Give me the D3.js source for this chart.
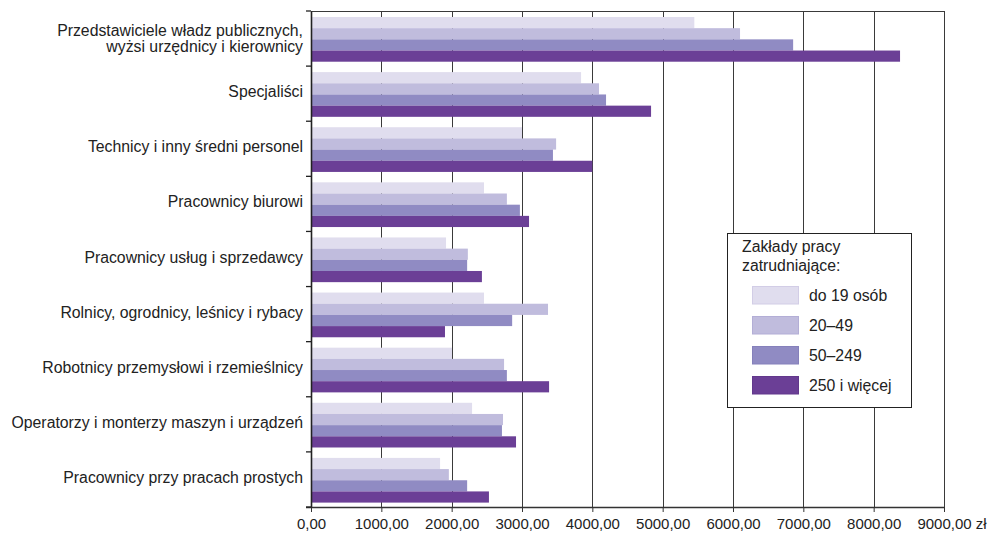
<!DOCTYPE html>
<html>
<head>
<meta charset="utf-8">
<script src="https://cdn.jsdelivr.net/npm/d3@7"></script>
<style>
html,body{margin:0;padding:0;background:#fff;}
svg{display:block;font-family:"Liberation Sans",Arial,sans-serif;}
</style>
</head>
<body>
<svg id="chart" width="991" height="536"></svg>
<script>
const categories = [
  ["Przedstawiciele władz publicznych,", "wyżsi urzędnicy i kierownicy"],
  ["Specjaliści"],
  ["Technicy i inny średni personel"],
  ["Pracownicy biurowi"],
  ["Pracownicy usług i sprzedawcy"],
  ["Rolnicy, ogrodnicy, leśnicy i rybacy"],
  ["Robotnicy przemysłowi i rzemieślnicy"],
  ["Operatorzy i monterzy maszyn i urządzeń"],
  ["Pracownicy przy pracach prostych"]
];
const seriesNames = ["do 19 osób", "20–49", "50–249", "250 i więcej"];
const s1 = [5450, 3840, 3000, 2460, 1920, 2460, 2005, 2290, 1835];
const s2 = [6100, 4095, 3485, 2785, 2230, 3370, 2745, 2730, 1960];
const s3 = [6855, 4195, 3440, 2970, 2220, 2860, 2785, 2715, 2220];
const s4 = [8375, 4835, 4000, 3100, 2430, 1905, 3385, 2915, 2530];
const series = [s1, s2, s3, s4];
const colors = ["#e0ddee", "#c0bcdd", "#908bc3", "#6b3f96"];
const strokeColors = ["#d2cde6", "#b3aed6", "#8580bb", "#62388c"];
const xTicks = [0,1000,2000,3000,4000,5000,6000,7000,8000,9000];
const currency = "zł";
const legendTitle = ["Zakłady pracy", "zatrudniające:"];

const svg = d3.select("#chart");
const L = 311, R = 944, T = 11, B = 507;

const x = d3.scaleLinear().domain([0, 9000]).range([L, R]);
const y = d3.scaleBand().domain(d3.range(categories.length)).range([T, B]).paddingInner(0).paddingOuter(0);
const inner = d3.scaleBand().domain(d3.range(4)).range([6, y.bandwidth() - 4.4]).paddingInner(0).paddingOuter(0);

// grid lines
svg.append("g").selectAll("line").data(xTicks.slice(1)).join("line")
  .attr("x1", d => Math.round(x(d)) + 0.5).attr("x2", d => Math.round(x(d)) + 0.5)
  .attr("y1", T).attr("y2", B)
  .attr("stroke", "#3a3a3a").attr("stroke-width", 1);
// top border
svg.append("line").attr("x1", L).attr("x2", R + 1).attr("y1", T + 0.5).attr("y2", T + 0.5)
  .attr("stroke", "#3a3a3a").attr("stroke-width", 1.2);

// bars
const groups = svg.append("g").selectAll("g").data(categories.map((c, i) => i)).join("g")
  .attr("transform", i => `translate(0,${y(i)})`);
groups.selectAll("rect").data(i => series.map((s, k) => ({k, v: s[i]}))).join("rect")
  .attr("x", L + 1)
  .attr("y", d => inner(d.k))
  .attr("height", inner.bandwidth())
  .attr("width", d => x(d.v) - L - 1)
  .attr("fill", d => colors[d.k]);

// x axis
const xAxis = d3.axisBottom(x).tickValues(xTicks).tickSize(5).tickFormat(d => d3.format(".2f")(d).replace(".", ","));
const gx = svg.append("g").attr("transform", `translate(0,${B})`).call(xAxis);
gx.select(".domain").attr("stroke", "#333").attr("stroke-width", 1.3).attr("d", `M${L - 5},0.5H${R}`);
gx.selectAll(".tick line").attr("stroke", "#333");
gx.selectAll(".tick text").attr("font-size", 15).attr("fill", "#222").attr("dy", "0.95em")
  .attr("font-family", "'Liberation Sans', Arial, sans-serif");
const lastText = gx.select(".tick:last-of-type text");
const lastLabel = lastText.text();
lastText.text(null);
lastText.append("tspan").text(lastLabel);
lastText.append("tspan").text(" " + currency);
const w = lastText.select("tspan").node().getComputedTextLength();
lastText.attr("text-anchor", "start").attr("x", -w / 2);

// y axis
const yAxis = d3.axisLeft(y).tickSize(0).tickFormat("");
const gy = svg.append("g").attr("transform", `translate(${L},0)`).call(yAxis);
gy.select(".domain").attr("stroke", "#222").attr("stroke-width", 1.6);
gy.append("g").selectAll("line").data(d3.range(categories.length + 1)).join("line")
  .attr("x1", -5).attr("x2", 0)
  .attr("y1", i => T + i * y.step()).attr("y2", i => T + i * y.step())
  .attr("stroke", "#222").attr("stroke-width", 1.3);

// category labels
const lab = svg.append("g").selectAll("text").data(categories).join("text")
  .attr("x", 303)
  .attr("y", (d, i) => y(i) + y.bandwidth() / 2 - (d.length > 1 ? 0 : 2))
  .attr("text-anchor", "end")
  .attr("font-size", 15.8)
  .attr("fill", "#222");
lab.each(function(d) {
  const t = d3.select(this);
  const n = d.length;
  d.forEach((line, j) => {
    t.append("tspan").attr("x", 303)
      .attr("dy", j === 0 ? `${0.35 - (n - 1) * 0.525}em` : "1.05em")
      .text(line);
  });
});

// legend
const lg = svg.append("g");
lg.append("rect").attr("x", 727.5).attr("y", 233.5).attr("width", 184).attr("height", 174)
  .attr("fill", "#fff").attr("stroke", "#222").attr("stroke-width", 1);
lg.selectAll("text.title").data(legendTitle).join("text").attr("class", "title")
  .attr("x", 742).attr("y", (d, i) => 252 + i * 18.5)
  .attr("font-size", 15.8).attr("fill", "#222").text(d => d);
const items = lg.selectAll("g.item").data(seriesNames).join("g").attr("class", "item")
  .attr("transform", (d, i) => `translate(752.5,${286.5 + i * 30})`);
items.append("rect").attr("width", 46).attr("height", 17.5)
  .attr("fill", (d, i) => colors[i]).attr("stroke", (d, i) => strokeColors[i]).attr("stroke-width", 1);
items.append("text").attr("x", 56.5).attr("y", 14.5).attr("font-size", 15.8).attr("fill", "#222").text(d => d);
</script>
</body>
</html>
